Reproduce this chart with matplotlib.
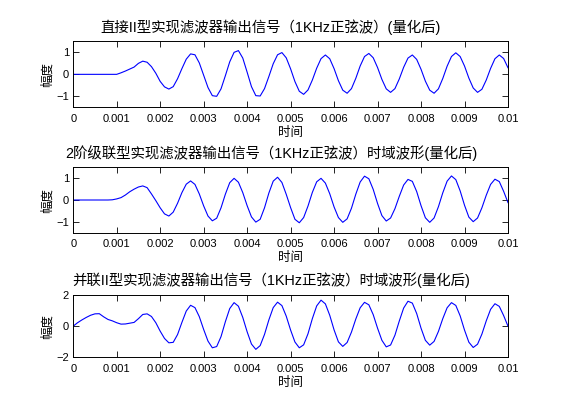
import numpy as np
import matplotlib
matplotlib.use('Agg')
import matplotlib.pyplot as plt

plt.rcParams['font.family'] = ['Liberation Sans', 'Noto Sans CJK SC', 'DejaVu Sans']

# sample grid: 0 .. 0.01 s, one sample every 0.1 ms
t = np.linspace(0, 0.01, 101)

# direct form II output
y_direct = [0, 0, 0, 0, 0, 0, 0, 0, 0, 0, 0,
            0.07, 0.15, 0.24, 0.33, 0.5, 0.6, 0.55, 0.35, 0.05, -0.32,
            -0.57, -0.67, -0.56, -0.2, 0.26, 0.69, 0.93, 0.89, 0.52, -0.04,
            -0.6, -0.97, -1.0, -0.66, -0.06, 0.57, 1.0, 1.08, 0.74, 0.1,
            -0.56, -0.97, -0.985, -0.65, -0.1, 0.48, 0.89, 0.99, 0.75, 0.25,
            -0.33, -0.77, -0.91, -0.71, -0.26, 0.28, 0.715, 0.88, 0.71, 0.26,
            -0.29, -0.72, -0.86, -0.65, -0.18, 0.38, 0.81, 0.95, 0.755, 0.31,
            -0.23, -0.66, -0.82, -0.65, -0.21, 0.32, 0.74, 0.88, 0.68, 0.23,
            -0.31, -0.72, -0.86, -0.66, -0.19, 0.37, 0.81, 0.98, 0.81, 0.38,
            -0.17, -0.62, -0.82, -0.68, -0.26, 0.27, 0.71, 0.88, 0.72, 0.3]

# 2nd order cascade output
y_cascade = [0, 0, 0, 0, 0, 0, 0, 0, 0, 0.01,
             0.05, 0.11, 0.23, 0.38, 0.5, 0.6, 0.65, 0.57, 0.28, -0.03,
             -0.36, -0.64, -0.74, -0.56, -0.15, 0.34, 0.73, 0.88, 0.72, 0.28,
             -0.27, -0.74, -0.96, -0.84, -0.36, 0.27, 0.8, 1.0, 0.82, 0.34,
             -0.26, -0.78, -1.02, -0.89, -0.36, 0.32, 0.87, 1.05, 0.81, 0.26,
             -0.35, -0.89, -1.05, -0.81, -0.28, 0.35, 0.84, 1.0, 0.78, 0.29,
             -0.32, -0.81, -1.03, -0.87, -0.38, 0.27, 0.83, 1.1, 0.98, 0.49,
             -0.16, -0.72, -0.97, -0.83, -0.4, 0.17, 0.69, 0.95, 0.86, 0.39,
             -0.26, -0.82, -1.03, -0.83, -0.31, 0.33, 0.87, 1.11, 0.94, 0.42,
             -0.24, -0.79, -1.0, -0.83, -0.36, 0.22, 0.72, 0.96, 0.85, 0.4,
             -0.12]

# parallel form II output
y_parallel = [0.0, 0.22, 0.4, 0.56, 0.7, 0.79, 0.8, 0.6, 0.43, 0.34,
              0.22, 0.13, 0.14, 0.19, 0.24, 0.48, 0.75, 0.79, 0.62, 0.22,
              -0.32, -0.79, -1.07, -1.04, -0.54, 0.24, 0.97, 1.34, 1.19, 0.61,
              -0.21, -0.96, -1.39, -1.31, -0.67, 0.29, 1.13, 1.51, 1.28, 0.56,
              -0.36, -1.15, -1.49, -1.25, -0.53, 0.4, 1.19, 1.54, 1.32, 0.64,
              -0.25, -1.02, -1.39, -1.2, -0.49, 0.48, 1.3, 1.67, 1.43, 0.7,
              -0.24, -1.01, -1.3, -1.05, -0.38, 0.46, 1.18, 1.53, 1.37, 0.74,
              -0.13, -0.91, -1.33, -1.21, -0.58, 0.33, 1.16, 1.6, 1.48, 0.81,
              -0.13, -0.91, -1.22, -0.98, -0.34, 0.48, 1.18, 1.51, 1.33, 0.66,
              -0.25, -1.03, -1.37, -1.16, -0.51, 0.34, 1.08, 1.44, 1.27, 0.68,
              0.0]

titles = ['直接II型实现滤波器输出信号（1KHz正弦波）(量化后)',
          '2阶级联型实现滤波器输出信号（1KHz正弦波）时域波形(量化后)',
          '并联II型实现滤波器输出信号（1KHz正弦波）时域波形(量化后)']
xticks = [0, 0.001, 0.002, 0.003, 0.004, 0.005, 0.006, 0.007, 0.008, 0.009, 0.01]
xticklabels = ['0', '0.001', '0.002', '0.003', '0.004', '0.005',
               '0.006', '0.007', '0.008', '0.009', '0.01']

fig = plt.figure(figsize=(5.61, 4.2), dpi=100)
positions = [[0.1305, 0.7445, 0.775, 0.157],
             [0.1305, 0.4464, 0.775, 0.1548],
             [0.1305, 0.1493, 0.775, 0.1483]]
ylims = [(-1.5, 1.5), (-1.5, 1.5), (-2, 2)]
yticks = [[-1, 0, 1], [-1, 0, 1], [-2, 0, 2]]
series = [y_direct, y_cascade, y_parallel]

for pos, ys, title, yl, yt in zip(positions, series, titles, ylims, yticks):
    ax = fig.add_axes(pos)
    ax.plot(t, ys, color='#0000ff', lw=0.8)
    ax.set_xlim(0, 0.01)
    ax.set_ylim(*yl)
    ax.set_xticks(xticks)
    ax.set_xticklabels(xticklabels)
    ax.set_yticks(yt)
    ax.tick_params(direction='in', length=4, width=0.6, top=True, right=True,
                   labelsize=8)
    ax.tick_params(axis='x', pad=4.5)
    ax.tick_params(axis='y', pad=3)
    for sp in ax.spines.values():
        sp.set_linewidth(0.7)
    # MATLAB put the titles a bit left of the axes centre
    ax.set_title(title, fontsize=10.4, pad=7, x=0.455)
    ax.set_xlabel('时间', fontsize=9, labelpad=2.5)
    ax.set_ylabel('幅度', fontsize=9, labelpad=2)

fig.savefig('out.png', dpi=100)
